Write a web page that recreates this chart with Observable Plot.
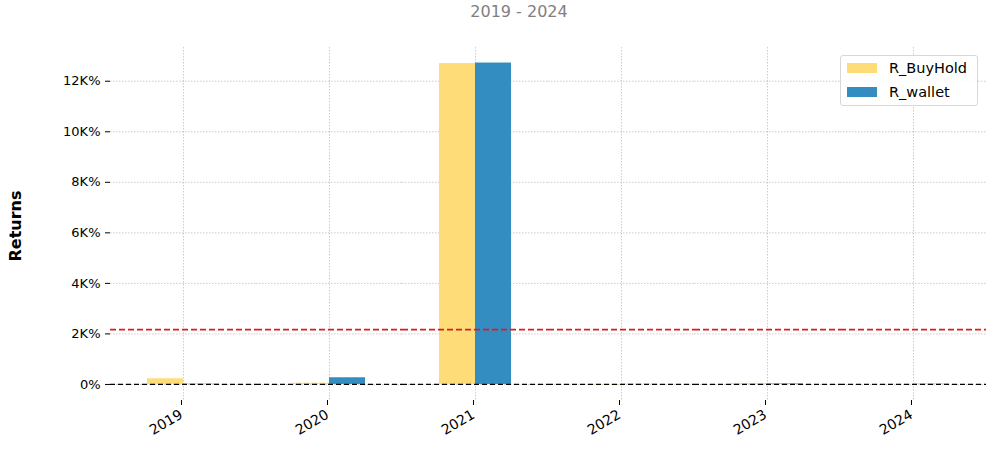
<!DOCTYPE html>
<html>
<head>
<meta charset="utf-8">
<script src="https://cdn.jsdelivr.net/npm/d3@7"></script>
<script src="https://cdn.jsdelivr.net/npm/@observablehq/plot@0.6"></script>
<style>
  html, body { margin: 0; padding: 0; background: #fff; }
  #wrap { position: relative; width: 1000px; height: 455px; font-family: "DejaVu Sans", sans-serif; overflow: hidden; }
  #sub { position: absolute; top: 2px; left: 519px; transform: translateX(-50%); font-size: 16px; color: #808080; white-space: nowrap; }
  #ylab { position: absolute; left: 15px; top: 226px; transform: translate(-50%, -50%) rotate(-90deg); font-size: 16px; font-weight: bold; color: #000; white-space: nowrap; }
  #legend { position: absolute; left: 840px; top: 55px; width: 138px; height: 51px; border: 1px solid #d8d8d8; border-radius: 3px; box-sizing: border-box; background: rgba(255,255,255,0.85); font-size: 14.5px; }
  .item { position: absolute; left: 6px; height: 17px; display: flex; align-items: center; }
  .sw { width: 30px; height: 10px; margin-right: 12px; }
  #chart { position: absolute; left: 0; top: 0; }
</style>
</head>
<body>
<div id="wrap">
  <div id="chart"></div>
  <div id="sub"></div>
  <div id="ylab"></div>
  <div id="legend"></div>
</div>
<script>
const years = ["2019", "2020", "2021", "2022", "2023", "2024"];
const seriesNames = ["R_BuyHold", "R_wallet"];
const buyHold = [225, 50, 12700, -15, 40, 5];
const wallet = [10, 265, 12720, 5, 20, 10];
const seriesColors = ["#fedd78", "#348dc1"];
const yTicks = [0, 2000, 4000, 6000, 8000, 10000, 12000];
const subtitle = "2019 - 2024";
const yLabel = "Returns";

const data = [];
years.forEach((y, i) => {
  data.push({year: y, series: seriesNames[0], value: buyHold[i]});
  data.push({year: y, series: seriesNames[1], value: wallet[i]});
});
const meanWallet = d3.mean(wallet);
const fmt = d => d === 0 ? "0%" : (d / 1000) + "K%";

const chart = Plot.plot({
  width: 1000,
  height: 455,
  marginTop: 47,
  marginBottom: 55,
  marginLeft: 110,
  marginRight: 14,
  style: {fontFamily: "DejaVu Sans, sans-serif", fontSize: "13px", color: "#000", background: "transparent"},
  fx: {domain: years, padding: 0, label: null},
  x: {domain: seriesNames, paddingInner: 0, paddingOuter: 1, axis: null},
  y: {domain: [-635, 13335], label: null},
  color: {domain: seriesNames, range: seriesColors},
  marks: [
    Plot.gridY(yTicks, {stroke: "#999", strokeOpacity: 1, strokeWidth: 0.5, strokeDasharray: "1.5,1.5"}),
    Plot.gridFx({stroke: "#999", strokeOpacity: 1, strokeWidth: 0.5, strokeDasharray: "1.5,1.5"}),
    Plot.barY(data, {fx: "year", x: "series", y: "value", fill: "series"}),
    Plot.ruleY([0], {stroke: "#000", strokeWidth: 1.2, strokeDasharray: "5,3"}),
    Plot.ruleY([meanWallet], {stroke: "#dc1c1c", strokeWidth: 1.6, strokeDasharray: "6,3"}),
    Plot.axisY(yTicks, {tickFormat: fmt, tickSize: 5, tickPadding: 5, label: null, fontSize: 13}),
    Plot.axisFx({anchor: "bottom", tickRotate: -30, tickSize: 5, tickPadding: 8, dx: -2, label: null, fontSize: 14})
  ]
});
document.getElementById("chart").appendChild(chart);
document.getElementById("sub").textContent = subtitle;
document.getElementById("ylab").textContent = yLabel;
const leg = document.getElementById("legend");
seriesNames.forEach((s, i) => {
  const it = document.createElement("div");
  it.className = "item";
  it.style.top = (i === 0 ? 3 : 27) + "px";
  const sw = document.createElement("div");
  sw.className = "sw";
  sw.style.background = seriesColors[i];
  const tx = document.createElement("span");
  tx.textContent = s;
  it.appendChild(sw); it.appendChild(tx);
  leg.appendChild(it);
});
</script>
</body>
</html>
